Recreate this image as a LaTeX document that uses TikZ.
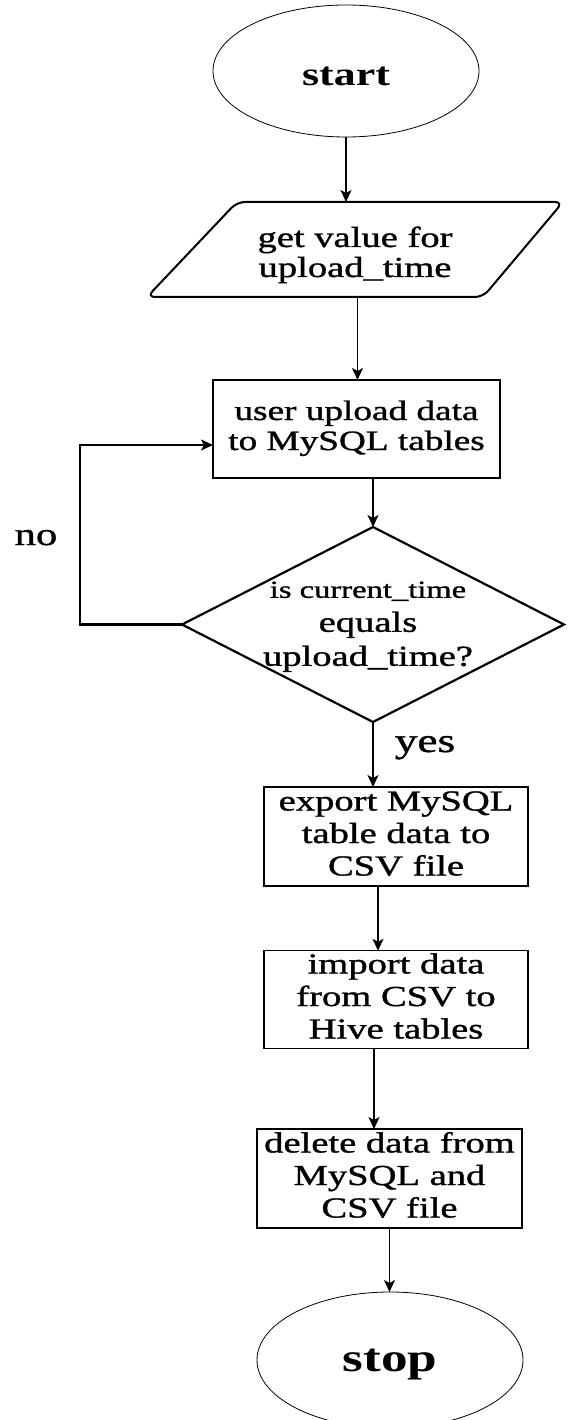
\documentclass[tikz,border=0pt]{standalone}
\usepackage{fontspec}
\setmainfont{Liberation Serif}
\newfontfamily\hv{Liberation Serif}[FakeBold=1.0]
\usepackage{graphicx}
\usetikzlibrary{shapes.geometric,arrows.meta,calc}
\newcommand{\sx}[1]{\scalebox{1.33}[1]{#1}}
\newcommand{\ml}[3]{\scalebox{1.33}[1]{\hv\fontsize{#1}{#2}\selectfont\begin{tabular}{@{}c@{}}#3\end{tabular}}}
\begin{document}
\begin{tikzpicture}[x=1pt,y=-1pt,
  arr/.style={line width=1.3pt,-{Stealth[length=12pt,width=11pt,inset=3pt]}},
  looparr/.style={line width=2.8pt,-{Stealth[length=12pt,width=11pt,inset=3pt]}},
  term/.style={ellipse,draw,line width=0.8pt,inner sep=0pt,outer sep=0pt},
  proc/.style={rectangle,draw,line width=1.3pt,inner sep=0pt,outer sep=0pt},
  plain/.style={inner sep=0pt,outer sep=0pt}]
\useasboundingbox (0,0) rectangle (568,1420);
% start terminal
\node[term,minimum width=266pt,minimum height=132pt] (start) at (346,71) {};
\node[plain] (startt) at (346,76) {\sx{\fontsize{33}{38}\selectfont\bfseries start}};
% input parallelogram
\node[plain,minimum width=331pt,minimum height=95pt] (para) at (357.5,249.5) {};
\node[plain] (parat) at (355,256) {\ml{29}{30}{get value for\\upload\_time}};
\draw[line width=2pt,rounded corners=8pt]
  ($(para.south west)+(-45,0)$) -- ($(para.north west)+(45,0)$) --
  ($(para.north east)+(40,0)$) -- ($(para.south east)+(-40,0)$) -- cycle;
% process 1
\node[proc,minimum width=287pt,minimum height=98pt] (b1) at (356.5,429)
  {\ml{28}{30}{user upload data\\to MySQL tables}};
% decision
\node[diamond,draw,line width=2.2pt,minimum width=382pt,minimum height=195pt,
  inner sep=0pt,outer sep=0pt] (dia) at (373,624.5) {};
\node[plain] (diat) at (368,625) {\scalebox{1.33}[1]{\hv\fontsize{29}{34}\selectfont
  \begin{tabular}{@{}c@{}}{\fontsize{24.5}{30}\selectfont is current\_time}\\equals\\upload\_time?\end{tabular}}};
% processes
\node[proc,minimum width=264pt,minimum height=99pt] (ex) at (396,836.5)
  {\ml{29}{32.5}{export MySQL\\table data to\\CSV file}};
\node[proc,minimum width=264pt,minimum height=97pt] (im) at (396,999.5)
  {\ml{29}{32.5}{import data\\from CSV to\\Hive tables}};
\node[proc,minimum width=265pt,minimum height=99pt] (del) at (389.5,1178.5)
  {\ml{29}{32.5}{delete data from\\MySQL and\\CSV file}};
% stop terminal
\node[term,minimum width=266pt,minimum height=136pt] (stop) at (390,1360) {};
\node[plain] (stopt) at (390,1364) {\sx{\fontsize{40}{46}\selectfont\bfseries stop}};
% labels
\node[plain,anchor=base] (no) at (36,545) {\sx{\hv\fontsize{32}{36}\selectfont no}};
\node[plain,anchor=base] (yes) at (425,752) {\sx{\hv\fontsize{34}{40}\selectfont yes}};
% connectors
\draw[arr] (start.south) -- (start.south |- para.north);
\draw[arr] (para.south) -- (para.south |- b1.north);
\draw[arr] (b1.south -| dia.north) -- (dia.north);
\draw[arr] (dia.south) -- (dia.south |- ex.north);
\draw[arr] ([xshift=-18pt]ex.south) -- ([xshift=-18pt]ex.south |- im.north);
\draw[arr] ([xshift=-22pt]im.south) -- ([xshift=-22pt]im.south |- del.north);
\draw[arr] (del.south) -- (del.south |- stop.north);
\draw[looparr] (dia.west) -- ++(-102,0) |- ([yshift=-16pt]b1.west);
\end{tikzpicture}
\end{document}
